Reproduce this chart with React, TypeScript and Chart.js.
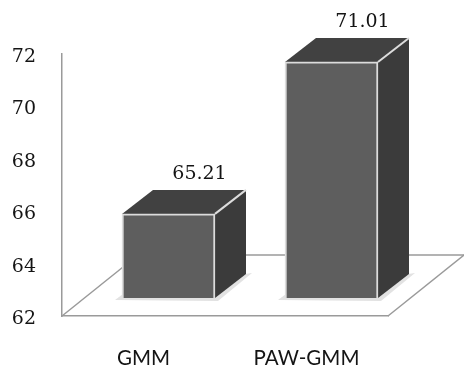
import React, { useEffect, useRef } from "react";
import { Chart, registerables } from "chart.js";

Chart.register(...registerables);

const categories = ["GMM", "PAW-GMM"];
const scores = [65.21, 71.01];
const tickValues = [62, 64, 66, 68, 70, 72];
const axisFloor = 62;

const FRONT_COLOR = "#5e5e5e";
const TOP_COLOR = "#414141";
const SIDE_COLOR = "#3b3b3b";
const EDGE_COLOR = "#dcdcdc";
const WALL_COLOR = "#9a9a9a";
const TEXT_COLOR = "#141414";
const NUMBER_FONT = "'DejaVu Serif'";

// Where the bars stand on the floor, relative to the axis corner.
const PLANE_DX = 25;
const PLANE_DY = -18;
// Extrusion of each box towards the back wall.
const DEPTH_DX = 31;
const DEPTH_DY = -24;
// Floor depth between the front edge and the back wall.
const FLOOR_DX = 76;
const FLOOR_DY = -61;

const polygon = (ctx: CanvasRenderingContext2D, pts: number[][], fill: string) => {
  ctx.beginPath();
  pts.forEach(([x, y], i) => (i ? ctx.lineTo(x, y) : ctx.moveTo(x, y)));
  ctx.closePath();
  ctx.fillStyle = fill;
  ctx.fill();
};

const segment = (
  ctx: CanvasRenderingContext2D,
  x0: number,
  y0: number,
  x1: number,
  y1: number,
  color: string,
  width: number
) => {
  ctx.beginPath();
  ctx.moveTo(x0, y0);
  ctx.lineTo(x1, y1);
  ctx.strokeStyle = color;
  ctx.lineWidth = width;
  ctx.stroke();
};

const box3d = {
  id: "box3d",
  beforeDatasetsDraw(chart: any) {
    const { ctx, chartArea: a } = chart;
    ctx.save();
    // Floor outline: the front edge comes from the x axis border.
    segment(ctx, a.left, a.bottom, a.left + FLOOR_DX, a.bottom + FLOOR_DY, WALL_COLOR, 1.5);
    segment(ctx, a.right, a.bottom, a.right + FLOOR_DX, a.bottom + FLOOR_DY, WALL_COLOR, 1.5);
    segment(ctx, a.left + FLOOR_DX, a.bottom + FLOOR_DY, a.right + FLOOR_DX, a.bottom + FLOOR_DY, WALL_COLOR, 1.5);

    chart.getDatasetMeta(0).data.forEach((bar: any) => {
      const l = bar.x - bar.width / 2 + PLANE_DX;
      const r = bar.x + bar.width / 2 + PLANE_DX;
      const t = bar.y + PLANE_DY;
      const b = bar.base + PLANE_DY;
      // Pale contact shadow on the floor.
      polygon(ctx, [[l - 7, b + 2], [l + 5, b - 7], [r + DEPTH_DX + 6, b + DEPTH_DY - 1], [r + 3, b + 3]], "#e2e2e2");
      polygon(ctx, [[r, t], [r + DEPTH_DX, t + DEPTH_DY], [r + DEPTH_DX, b + DEPTH_DY], [r, b]], SIDE_COLOR);
      polygon(ctx, [[l, t], [l + DEPTH_DX, t + DEPTH_DY], [r + DEPTH_DX, t + DEPTH_DY], [r, t]], TOP_COLOR);
      segment(ctx, r, t, r + DEPTH_DX, t + DEPTH_DY, EDGE_COLOR, 2);
    });
    ctx.restore();
  },
  beforeDatasetDraw(chart: any) {
    chart.ctx.save();
    chart.ctx.translate(PLANE_DX, PLANE_DY);
  },
  afterDatasetDraw(chart: any) {
    chart.ctx.restore();
  },
  afterDatasetsDraw(chart: any) {
    const { ctx } = chart;
    ctx.save();
    ctx.font = `19px ${NUMBER_FONT}`;
    ctx.fillStyle = TEXT_COLOR;
    ctx.textAlign = "center";
    ctx.textBaseline = "middle";
    chart.getDatasetMeta(0).data.forEach((bar: any, i: number) => {
      ctx.fillText(scores[i].toFixed(2), bar.x + PLANE_DX + DEPTH_DX, bar.y + PLANE_DY + DEPTH_DY - 16);
    });
    ctx.restore();
  },
};

export default function App() {
  const ref = useRef<HTMLCanvasElement>(null);

  useEffect(() => {
    document.body.style.margin = "0";
    document.body.style.background = "#ffffff";
    const chart = new Chart(ref.current!, {
      type: "bar",
      data: {
        labels: categories,
        datasets: [
          {
            data: scores,
            base: axisFloor,
            backgroundColor: FRONT_COLOR,
            borderColor: EDGE_COLOR,
            borderWidth: 2,
            barThickness: 93,
            clip: false,
          } as any,
        ],
      },
      options: {
        animation: false,
        responsive: false,
        layout: { padding: { top: 54, right: 76, left: 0, bottom: 0 } },
        plugins: { legend: { display: false }, tooltip: { enabled: false } },
        scales: {
          x: {
            grid: { display: false },
            border: { color: WALL_COLOR, width: 1.5 },
            ticks: {
              color: TEXT_COLOR,
              font: { family: "Lato", size: 20.5 },
              padding: 22,
              maxRotation: 0,
            },
            afterFit: (s: any) => {
              s.height = 55;
            },
          },
          y: {
            min: axisFloor,
            max: 72,
            grid: { display: false },
            border: { color: WALL_COLOR, width: 1.5 },
            afterBuildTicks: (s: any) => {
              s.ticks = tickValues.map((value) => ({ value }));
            },
            ticks: {
              color: TEXT_COLOR,
              font: { family: NUMBER_FONT, size: 19 },
              padding: 18,
              labelOffset: 3,
            },
            afterFit: (s: any) => {
              s.width = 62;
            },
          },
        },
      },
      plugins: [box3d],
    });
    return () => chart.destroy();
  }, []);

  return <canvas ref={ref} width={464} height={371} style={{ display: "block" }} />;
}
